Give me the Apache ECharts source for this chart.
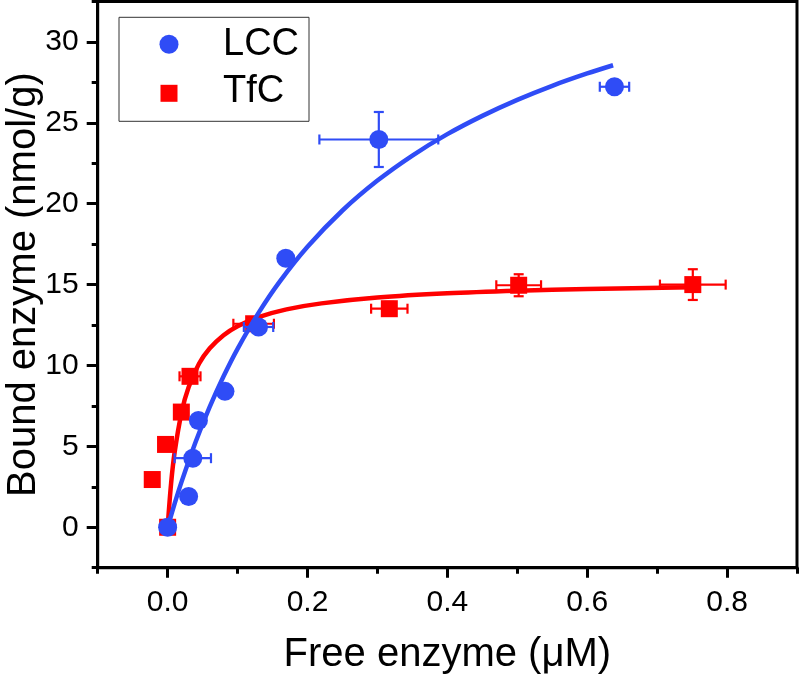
<!DOCTYPE html>
<html><head><meta charset="utf-8">
<script src="https://cdn.jsdelivr.net/npm/echarts@6/dist/echarts.min.js"></script>
<style>html,body{margin:0;padding:0;background:#fff}#c{width:799px;height:679px}</style>
</head><body><div id="c"></div>
<script>
// ---- data ----
const lccX    = [0, 0.030, 0.036, 0.044, 0.082, 0.130, 0.169, 0.302, 0.639];
const lccY    = [0, 1.90, 4.27, 6.60, 8.40, 12.38, 16.63, 23.97, 27.23];
const lccXErr = [0, 0, 0.026, 0, 0, 0.021, 0, 0.085, 0.021];
const lccYErr = [0, 0, 0, 0, 0, 0, 0, 1.70, 0];

const tfcX    = [0, -0.022, -0.003, 0.0196, 0.032, 0.123, 0.317, 0.502, 0.751];
const tfcY    = [0, 2.95, 5.12, 7.12, 9.33, 12.58, 13.51, 14.96, 15.00];
const tfcXErr = [0, 0, 0, 0, 0.015, 0.029, 0.026, 0.032, 0.047];
const tfcYErr = [0, 0, 0, 0, 0, 0, 0.42, 0.68, 0.95];

// fitted curves
const lccFitX = [0, 0.01, 0.02, 0.04, 0.06, 0.08, 0.10, 0.13, 0.16, 0.20, 0.25, 0.30, 0.35, 0.40, 0.45, 0.50, 0.55, 0.60, 0.637];
const lccFitY = [0, 1.46, 2.82, 5.27, 7.42, 9.33, 11.03, 13.25, 15.17, 17.34, 19.58, 21.43, 22.98, 24.30, 25.43, 26.42, 27.29, 28.05, 28.56];
const tfcFitX = [0, 0.005, 0.01, 0.02, 0.03, 0.045, 0.06, 0.08, 0.10, 0.13, 0.17, 0.22, 0.30, 0.40, 0.50, 0.60, 0.75];
const tfcFitY = [0, 2.73, 4.63, 7.11, 8.65, 10.12, 11.05, 11.87, 12.43, 12.99, 13.47, 13.84, 14.20, 14.46, 14.62, 14.73, 14.84];

// ticks
const xMajor = [0, 0.2, 0.4, 0.6, 0.8];
const xMinor = [-0.1, 0.1, 0.3, 0.5, 0.7, 0.9];
const yMajor = [0, 5, 10, 15, 20, 25, 30];
const yMinor = [-2.5, 2.5, 7.5, 12.5, 17.5, 22.5, 27.5, 32.5];

const BLUE = '#2f4cf6';
const RED = '#ff0000';
const FONT = "'Liberation Sans', Arial, sans-serif";

const zip = (...a) => a[0].map((_, i) => a.map(arr => arr[i]));

function errRender(color) {
  return function (params, api) {
    const x = api.value(0), y = api.value(1), ex = api.value(2), ey = api.value(3);
    const cap = 5;
    const style = { stroke: color, lineWidth: 2.2, fill: null };
    const ch = [];
    if (ex > 0) {
      const l = api.coord([x - ex, y]), r = api.coord([x + ex, y]);
      ch.push({ type: 'line', shape: { x1: l[0], y1: l[1], x2: r[0], y2: r[1] }, style });
      ch.push({ type: 'line', shape: { x1: l[0], y1: l[1] - cap, x2: l[0], y2: l[1] + cap }, style });
      ch.push({ type: 'line', shape: { x1: r[0], y1: r[1] - cap, x2: r[0], y2: r[1] + cap }, style });
    }
    if (ey > 0) {
      const t = api.coord([x, y + ey]), b = api.coord([x, y - ey]);
      ch.push({ type: 'line', shape: { x1: t[0], y1: t[1], x2: b[0], y2: b[1] }, style });
      ch.push({ type: 'line', shape: { x1: t[0] - cap, y1: t[1], x2: t[0] + cap, y2: t[1] }, style });
      ch.push({ type: 'line', shape: { x1: b[0] - cap, y1: b[1], x2: b[0] + cap, y2: b[1] }, style });
    }
    return { type: 'group', children: ch };
  };
}

const axisLineStyle = { color: '#000', width: 3 };

const option = {
  animation: false,
  backgroundColor: '#fff',
  textStyle: { fontFamily: FONT },
  grid: { left: 97.7, right: 2, top: 1.5, bottom: 111.3, containLabel: false, outerBoundsMode: 'none',
          show: true, borderColor: '#000', borderWidth: 3, backgroundColor: 'transparent' },
  xAxis: [
    {
      type: 'value', min: -0.1, max: 0.9, interval: 0.1, position: 'bottom',
      axisLine: { show: true, onZero: false, lineStyle: axisLineStyle },
      axisTick: { show: true, length: 10, lineStyle: axisLineStyle, customValues: xMajor },
      axisLabel: { customValues: xMajor, formatter: v => v.toFixed(1), fontSize: 30, color: '#000', margin: 20, fontFamily: FONT },
      splitLine: { show: false },
      name: 'Free enzyme (μM)', nameLocation: 'middle', nameGap: 67,
      nameTextStyle: { fontSize: 40, color: '#000', fontFamily: FONT }
    },
    {
      type: 'value', min: -0.1, max: 0.9, interval: 0.1, position: 'bottom',
      axisLine: { show: false, onZero: false },
      axisTick: { show: true, length: 6, lineStyle: axisLineStyle, customValues: xMinor },
      axisLabel: { show: false },
      splitLine: { show: false }
    }
  ],
  yAxis: [
    {
      type: 'value', min: -2.5, max: 32.5, interval: 2.5, position: 'left',
      axisLine: { show: true, onZero: false, lineStyle: axisLineStyle },
      axisTick: { show: true, length: 11, lineStyle: axisLineStyle, customValues: yMajor },
      axisLabel: { customValues: yMajor, formatter: v => String(v), fontSize: 30, color: '#000', margin: 19, fontFamily: FONT },
      splitLine: { show: false },
      name: 'Bound enzyme (nmol/g)', nameLocation: 'middle', nameGap: 54, nameMoveOverlap: false,
      nameTextStyle: { fontSize: 40, color: '#000', fontFamily: FONT }
    },
    {
      type: 'value', min: -2.5, max: 32.5, interval: 2.5, position: 'left',
      axisLine: { show: false, onZero: false },
      axisTick: { show: true, length: 6, lineStyle: axisLineStyle, customValues: yMinor },
      axisLabel: { show: false },
      splitLine: { show: false }
    }
  ],
  series: [
    {
      name: 'TfC fit', type: 'line', data: zip(tfcFitX, tfcFitY), smooth: 0.3,
      showSymbol: false, lineStyle: { color: RED, width: 4.5 }, z: 2, silent: true
    },
    {
      name: 'TfC err', type: 'custom', data: zip(tfcX, tfcY, tfcXErr, tfcYErr),
      renderItem: errRender(RED), encode: { x: 0, y: 1 }, z: 3, silent: true
    },
    {
      name: 'TfC', type: 'scatter', data: zip(tfcX, tfcY), symbol: 'rect', symbolSize: 17,
      itemStyle: { color: RED, opacity: 1 }, z: 4
    },
    {
      name: 'LCC fit', type: 'line', data: zip(lccFitX, lccFitY), smooth: 0.3,
      showSymbol: false, lineStyle: { color: BLUE, width: 4.5 }, z: 5, silent: true
    },
    {
      name: 'LCC err', type: 'custom', data: zip(lccX, lccY, lccXErr, lccYErr),
      renderItem: errRender(BLUE), encode: { x: 0, y: 1 }, z: 6, silent: true
    },
    {
      name: 'LCC', type: 'scatter', data: zip(lccX, lccY), symbol: 'circle', symbolSize: 19,
      itemStyle: { color: BLUE, opacity: 1 }, z: 7
    }
  ],
  graphic: [
    { type: 'rect', shape: { x: 119, y: 17.3, width: 190, height: 104 }, style: { fill: '#fff', stroke: '#333', lineWidth: 1 }, z: 100 },
    { type: 'circle', shape: { cx: 169, cy: 44.3, r: 9.5 }, style: { fill: BLUE }, z: 101 },
    { type: 'rect', shape: { x: 160.5, y: 84.8, width: 17, height: 17 }, style: { fill: RED }, z: 101 },
    { type: 'text', x: 223, y: 44.5, style: { text: 'LCC', font: "38px 'Liberation Sans', Arial, sans-serif", fill: '#000', textVerticalAlign: 'middle', verticalAlign: 'middle' }, z: 101 },
    { type: 'text', x: 223, y: 92, style: { text: 'TfC', font: "38px 'Liberation Sans', Arial, sans-serif", fill: '#000', textVerticalAlign: 'middle', verticalAlign: 'middle' }, z: 101 }
  ]
};

const chart = echarts.init(document.getElementById('c'), null, { renderer: 'canvas' });
chart.setOption(option);
</script>
</body></html>
